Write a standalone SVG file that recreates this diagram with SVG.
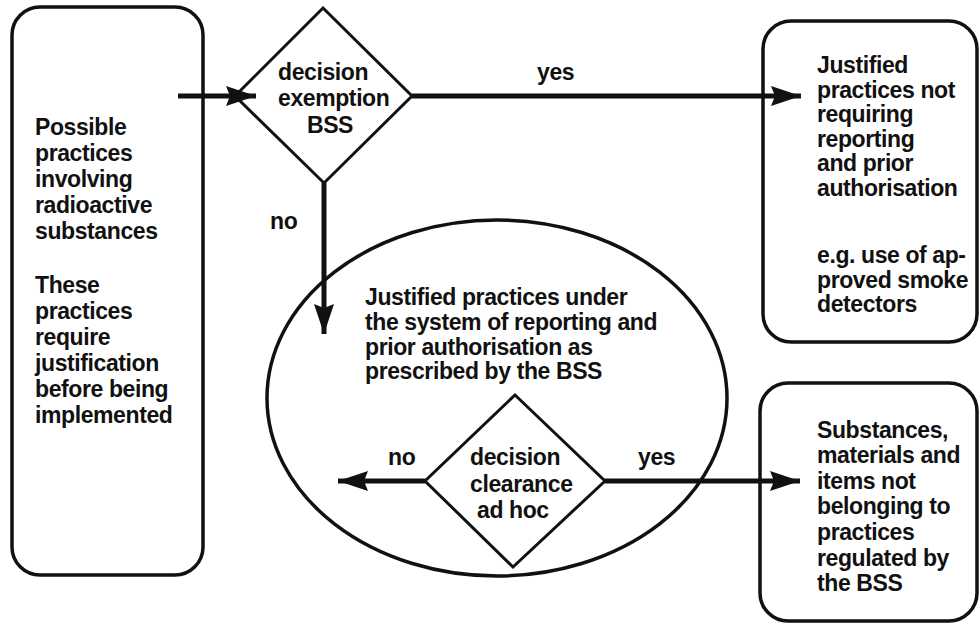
<svg xmlns="http://www.w3.org/2000/svg" width="980" height="625" viewBox="0 0 980 625">
  <defs>
    <style>
      .box { fill: none; stroke: #111; stroke-width: 3.5; }
      .dec { fill: none; stroke: #111; stroke-width: 3; stroke-linejoin: miter; }
      .conn { fill: none; stroke: #111; stroke-width: 5; }
      text { font-family: "Liberation Sans", Arial, sans-serif; font-size: 23px; letter-spacing: -0.4px; font-weight: bold; fill: #111; }
      .mid { text-anchor: middle; }
    </style>
    <marker id="arrow" viewBox="0 0 30 20" markerWidth="30" markerHeight="20" refX="30" refY="10" markerUnits="userSpaceOnUse" orient="auto">
      <path d="M0,0 L30,10 L0,20 L4,10 Z" fill="#111"/>
    </marker>
  </defs>

  <rect width="980" height="625" fill="#fff"/>

  <!-- start: possible practices -->
  <g id="possible-practices">
    <rect class="box" x="12" y="7" width="191" height="568" rx="28" ry="28"/>
    <text x="35" y="135">Possible</text>
    <text x="35" y="161">practices</text>
    <text x="35" y="187">involving</text>
    <text x="35" y="213">radioactive</text>
    <text x="35" y="239">substances</text>
    <text x="35" y="293">These</text>
    <text x="35" y="319">practices</text>
    <text x="35" y="345">require</text>
    <text x="35" y="371">justification</text>
    <text x="35" y="397">before being</text>
    <text x="35" y="423">implemented</text>
  </g>

  <!-- decision: exemption -->
  <g id="decision-exemption">
    <polygon class="dec" points="323,8 412,96 324,183 235,96"/>
    <text x="278" y="80">decision</text>
    <text x="278" y="106">exemption</text>
    <text class="mid" x="330" y="133">BSS</text>
  </g>

  <!-- exempt practices -->
  <g id="exempt-practices">
    <rect class="box" x="763" y="21" width="214" height="321" rx="28" ry="28"/>
    <text x="817" y="73">Justified</text>
    <text x="817" y="98">practices not</text>
    <text x="817" y="122">requiring</text>
    <text x="817" y="147">reporting</text>
    <text x="817" y="171">and prior</text>
    <text x="817" y="196">authorisation</text>
    <text x="817" y="263">e.g. use of ap-</text>
    <text x="817" y="288">proved smoke</text>
    <text x="817" y="312">detectors</text>
  </g>

  <!-- regulated practices -->
  <g id="regulated-practices">
    <ellipse class="box" cx="497" cy="398" rx="230" ry="178"/>
    <text x="365" y="305">Justified practices under</text>
    <text x="365" y="330">the system of reporting and</text>
    <text x="365" y="355">prior authorisation as</text>
    <text x="365" y="379">prescribed by the BSS</text>
  </g>

  <!-- decision: clearance -->
  <g id="decision-clearance">
    <polygon class="dec" points="515,395 605,481 513,567 425,481"/>
    <text x="470" y="465">decision</text>
    <text x="470" y="492">clearance</text>
    <text x="477" y="518">ad hoc</text>
  </g>

  <!-- cleared materials -->
  <g id="cleared-materials">
    <rect class="box" x="760" y="383" width="217" height="238" rx="28" ry="28"/>
    <text x="817" y="438">Substances,</text>
    <text x="817" y="463">materials and</text>
    <text x="817" y="489">items not</text>
    <text x="817" y="514">belonging to</text>
    <text x="817" y="540">practices</text>
    <text x="817" y="566">regulated by</text>
    <text x="817" y="591">the BSS</text>
  </g>

  <!-- connectors -->
  <g id="connectors">
    <line class="conn" x1="178" y1="96" x2="256" y2="96" marker-end="url(#arrow)"/>
    <line class="conn" x1="412" y1="96" x2="801" y2="96" marker-end="url(#arrow)"/>
    <line class="conn" x1="324" y1="183" x2="324" y2="334" marker-end="url(#arrow)"/>
    <line class="conn" x1="425" y1="481" x2="338" y2="481" marker-end="url(#arrow)"/>
    <line class="conn" x1="605" y1="481" x2="800" y2="481" marker-end="url(#arrow)"/>
    <text x="537" y="80">yes</text>
    <text x="270" y="229">no</text>
    <text x="388" y="465">no</text>
    <text x="638" y="465">yes</text>
  </g>
</svg>
